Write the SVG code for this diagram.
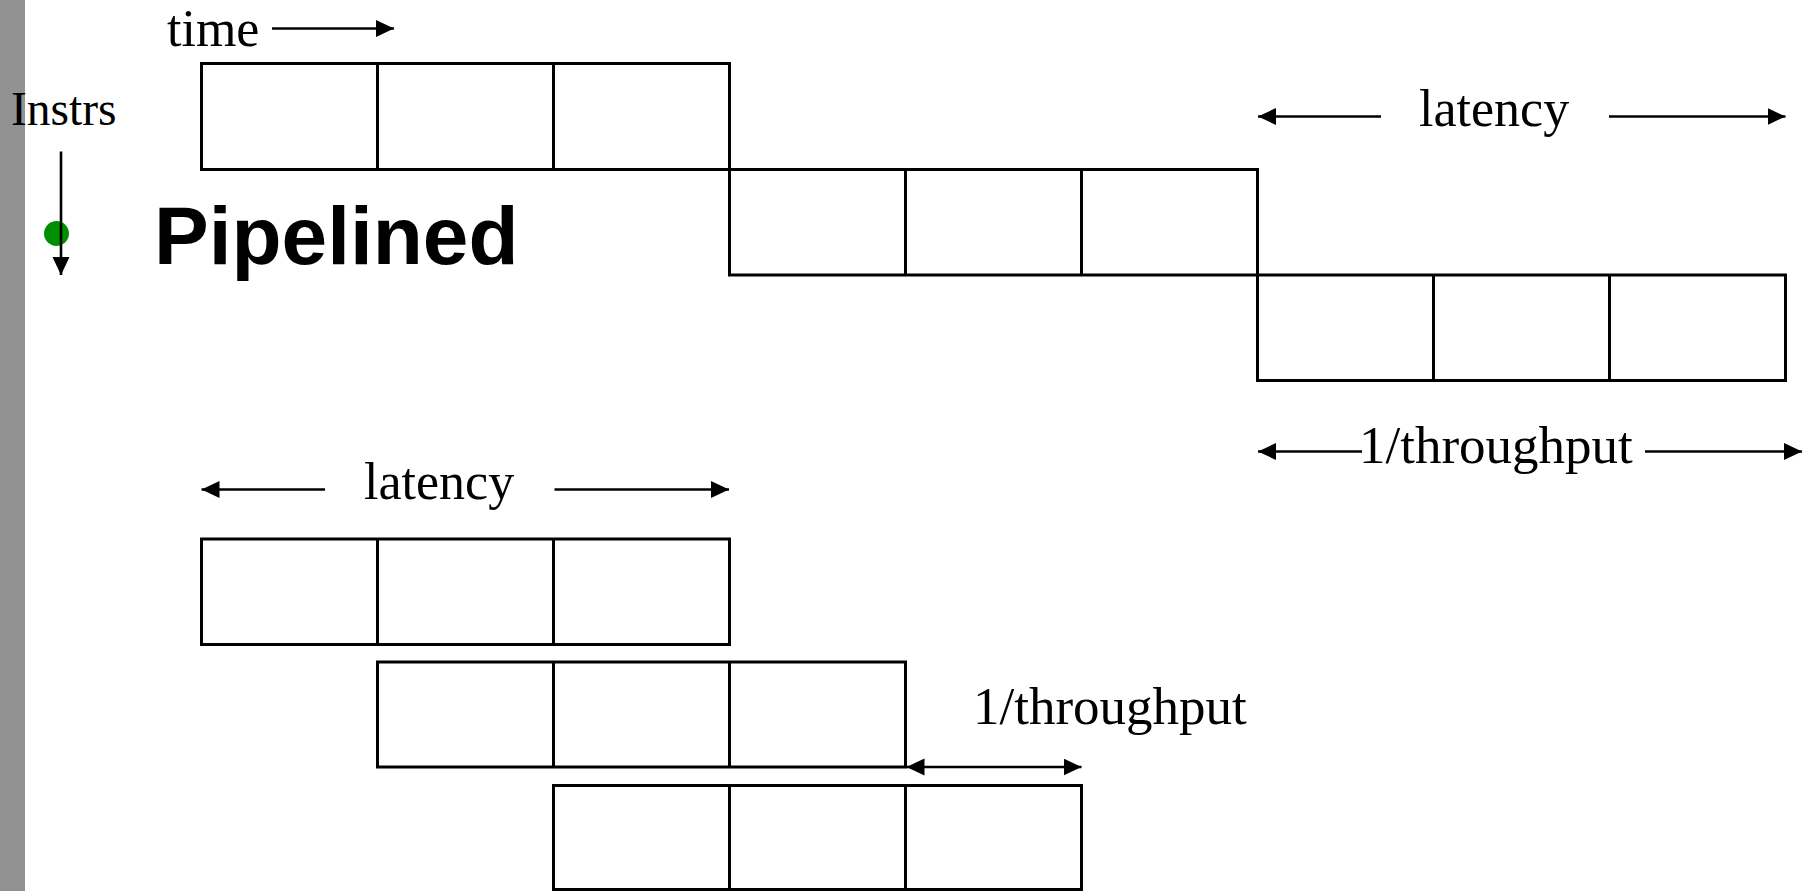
<svg xmlns="http://www.w3.org/2000/svg" width="1807" height="891" viewBox="0 0 1807 891">
  <style>
    .stage { fill: none; stroke: #000; stroke-width: 3; }
    .arrow { fill: none; stroke: #000; stroke-width: 2.6; }
    .lbl { font-family: "Liberation Serif", "Times New Roman", serif; font-size: 53px; fill: #000; }
  </style>
  <defs>
    <marker id="head" markerUnits="userSpaceOnUse" markerWidth="19" markerHeight="18" refX="18" refY="8.5" orient="auto-start-reverse">
      <path d="M0,0 L18,8.5 L0,17 Z" fill="#000"/>
    </marker>
  </defs>

  <rect width="1807" height="891" fill="#fff"/>
  <!-- left margin bar -->
  <rect x="0" y="0" width="25" height="891" fill="#929292"/>

  <!-- axis labels -->
  <g id="axis-time">
    <text class="lbl" x="167" y="46" style="font-size:52px">time</text>
  </g>
  <g id="axis-instrs">
    <text class="lbl" x="11" y="125" style="font-size:47.5px">Instrs</text>
    <circle cx="56.5" cy="233.5" r="12.5" fill="#008f00"/>
  </g>
  <g id="title">
    <text x="154" y="264" font-family="'Liberation Sans', Arial, sans-serif" font-weight="bold" font-size="82">Pipelined</text>
  </g>

  <!-- upper chart: three instructions, each three stages, one after the other -->
  <g id="seq-instr-1">
    <rect class="stage" x="201.5" y="63.5" width="528" height="106"/>
    <line class="stage" x1="377.5" y1="63.5" x2="377.5" y2="169.5"/>
    <line class="stage" x1="553.5" y1="63.5" x2="553.5" y2="169.5"/>
  </g>
  <g id="seq-instr-2">
    <rect class="stage" x="729.5" y="169.5" width="528" height="105.5"/>
    <line class="stage" x1="905.5" y1="169.5" x2="905.5" y2="275"/>
    <line class="stage" x1="1081.5" y1="169.5" x2="1081.5" y2="275"/>
  </g>
  <g id="seq-instr-3">
    <rect class="stage" x="1257.5" y="275" width="528" height="105.5"/>
    <line class="stage" x1="1433.5" y1="275" x2="1433.5" y2="380.5"/>
    <line class="stage" x1="1609.5" y1="275" x2="1609.5" y2="380.5"/>
  </g>

  <!-- lower chart: overlapped stages -->
  <g id="pipe-instr-1">
    <rect class="stage" x="201.5" y="539" width="528" height="105.5"/>
    <line class="stage" x1="377.5" y1="539" x2="377.5" y2="644.5"/>
    <line class="stage" x1="553.5" y1="539" x2="553.5" y2="644.5"/>
  </g>
  <g id="pipe-instr-2">
    <rect class="stage" x="377.5" y="662" width="528" height="105"/>
    <line class="stage" x1="553.5" y1="662" x2="553.5" y2="767"/>
    <line class="stage" x1="729.5" y1="662" x2="729.5" y2="767"/>
  </g>
  <g id="pipe-instr-3">
    <rect class="stage" x="553.5" y="785.5" width="528" height="104"/>
    <line class="stage" x1="729.5" y1="785.5" x2="729.5" y2="889.5"/>
    <line class="stage" x1="905.5" y1="785.5" x2="905.5" y2="889.5"/>
  </g>

  <!-- dimension labels -->
  <g id="label-latency-seq">
    <text class="lbl" x="1419" y="126" style="font-size:52px">latency</text>
  </g>
  <g id="label-throughput-seq">
    <text class="lbl" x="1359" y="463">1/throughput</text>
  </g>
  <g id="label-latency-pipe">
    <text class="lbl" x="364" y="499" style="font-size:52px">latency</text>
  </g>
  <g id="label-throughput-pipe">
    <text class="lbl" x="973" y="724">1/throughput</text>
  </g>

  <!-- connectors -->
  <g id="connectors">
    <line class="arrow" x1="272" y1="28.5" x2="394" y2="28.5" marker-end="url(#head)"/>
    <line class="arrow" x1="61" y1="151.5" x2="61" y2="275" marker-end="url(#head)"/>

    <line class="arrow" x1="1381" y1="116.5" x2="1258" y2="116.5" marker-end="url(#head)"/>
    <line class="arrow" x1="1609" y1="116.5" x2="1785.5" y2="116.5" marker-end="url(#head)"/>

    <line class="arrow" x1="1362" y1="451.5" x2="1258" y2="451.5" marker-end="url(#head)"/>
    <line class="arrow" x1="1645" y1="451.5" x2="1802" y2="451.5" marker-end="url(#head)"/>

    <line class="arrow" x1="325" y1="489.5" x2="201.5" y2="489.5" marker-end="url(#head)"/>
    <line class="arrow" x1="554.5" y1="489.5" x2="729" y2="489.5" marker-end="url(#head)"/>

    <line class="arrow" x1="906.5" y1="767" x2="1081.5" y2="767" marker-start="url(#head)" marker-end="url(#head)"/>
  </g>
</svg>
